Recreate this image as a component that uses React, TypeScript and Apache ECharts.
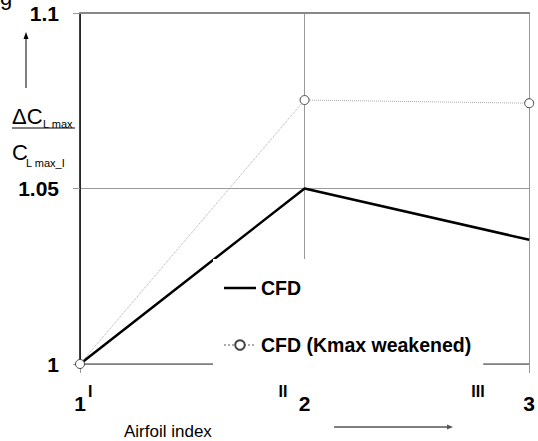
import React, { useEffect, useRef } from "react";
import * as echarts from "echarts";

const xValues = [1, 2, 3];
const cfd = [1.0, 1.05, 1.0354];
const cfdWeakened = [1.0, 1.0752, 1.0743];
const yTickLabels = ["1", "1.05", "1.1"];
const xTickLabels = ["1", "2", "3"];
const romanLabels = ["I", "II", "III"];
const seriesNames = ["CFD", "CFD (Kmax weakened)"];

const FONT = "'Liberation Sans', Arial, sans-serif";

export default function App() {
  const ref = useRef<HTMLDivElement>(null);
  useEffect(() => {
    if (!ref.current) return;
    const chart = echarts.init(ref.current, null, { renderer: "svg" });
    const option: any = {
      animation: false,
      backgroundColor: "#fff",
      textStyle: { fontFamily: FONT },
      grid: { left: 80, right: 5, top: 13, bottom: 77, containLabel: false },
      xAxis: [
        {
          type: "value",
          min: 1,
          max: 3,
          interval: 1,
          axisLine: { show: true, lineStyle: { color: "#7a7a7a", width: 1.5 } },
          axisTick: { show: true, length: 9, lineStyle: { color: "#999", width: 1 } },
          splitLine: { show: true, lineStyle: { color: "#999", width: 1 } },
          axisLabel: {
            margin: 29,
            fontSize: 21,
            fontWeight: "bold",
            color: "#000",
            fontFamily: FONT,
            formatter: (v: number) => xTickLabels[xValues.indexOf(Math.round(v))] ?? "",
          },
        },
        {
          type: "value",
          position: "top",
          min: 1,
          max: 3,
          axisLine: { show: true, onZero: false, lineStyle: { color: "#888", width: 2 } },
          axisTick: { show: false },
          axisLabel: { show: false },
          splitLine: { show: false },
        },
      ],
      yAxis: {
        type: "value",
        min: 1,
        max: 1.1,
        interval: 0.05,
        axisLine: { show: true, lineStyle: { color: "#000", width: 1.5 } },
        axisTick: { show: true, length: 7, lineStyle: { color: "#999", width: 1 } },
        splitLine: { show: true, lineStyle: { color: "#999", width: 1 } },
        axisLabel: {
          margin: 21,
          fontSize: 21,
          fontWeight: "bold",
          color: "#000",
          fontFamily: FONT,
          padding: [12, 0, 0, 0],
          formatter: (_v: number, i: number) => yTickLabels[i] ?? "",
        },
      },
      legend: {
        orient: "vertical",
        left: 213,
        top: 259,
        backgroundColor: "#fff",
        padding: [16, 12, 16, 10],
        itemWidth: 32,
        itemHeight: 12,
        itemGap: 31,
        data: [
          { name: seriesNames[0], icon: "path://M0,0 L32,0 L32,2.5 L0,2.5 Z" },
          { name: seriesNames[1] },
        ],
        textStyle: {
          fontSize: 19.5,
          fontWeight: "bold",
          color: "#000",
          fontFamily: FONT,
          lineHeight: 20,
          padding: [6, 0, 0, 0],
        },
      },
      series: [
        {
          name: seriesNames[0],
          type: "line",
          data: xValues.map((x, i) => [x, cfd[i]]),
          showSymbol: false,
          symbol: "none",
          lineStyle: { color: "#000", width: 2.5 },
          itemStyle: { color: "#000" },
          z: 3,
        },
        {
          name: seriesNames[1],
          type: "line",
          data: xValues.map((x, i) => [x, cfdWeakened[i]]),
          symbol: "circle",
          symbolSize: 9,
          lineStyle: { color: "#aaa", width: 1, type: "dotted" },
          itemStyle: { color: "#fff", borderColor: "#444", borderWidth: 1 },
          z: 4,
        },
      ],
      graphic: [
        { type: "text", left: 0, top: -14, style: { text: "g", fontSize: 22, fill: "#000", fontFamily: FONT } },
        { type: "line", shape: { x1: 26, y1: 88, x2: 26, y2: 37 }, style: { stroke: "#000", lineWidth: 1 } },
        { type: "polygon", shape: { points: [[26, 32], [23.5, 39], [28.5, 39]] }, style: { fill: "#000" } },
        { type: "text", x: 12, y: 116, style: { text: "ΔC", fontSize: 22, fill: "#000", fontFamily: FONT, textVerticalAlign: "middle" } },
        { type: "text", x: 43, y: 124, style: { text: "L max", fontSize: 11, fill: "#000", fontFamily: FONT, textVerticalAlign: "middle" } },
        { type: "line", shape: { x1: 12, y1: 128, x2: 75, y2: 128 }, style: { stroke: "#000", lineWidth: 1 } },
        { type: "text", x: 12, y: 152, style: { text: "C", fontSize: 22, fill: "#000", fontFamily: FONT, textVerticalAlign: "middle" } },
        { type: "text", x: 26, y: 163, style: { text: "L max_I", fontSize: 11, fill: "#000", fontFamily: FONT, textVerticalAlign: "middle" } },
        { type: "text", x: 88, y: 391.5, style: { text: romanLabels[0], fontSize: 16, fontWeight: "bold", fill: "#000", fontFamily: FONT, textVerticalAlign: "middle" } },
        { type: "text", x: 283, y: 391.5, style: { text: romanLabels[1], fontSize: 16, fontWeight: "bold", fill: "#000", fontFamily: FONT, textAlign: "center", textVerticalAlign: "middle" } },
        { type: "text", x: 478, y: 391.5, style: { text: romanLabels[2], fontSize: 16, fontWeight: "bold", fill: "#000", fontFamily: FONT, textAlign: "center", textVerticalAlign: "middle" } },
        { type: "text", x: 124, y: 431, style: { text: "Airfoil index", fontSize: 17, fill: "#000", fontFamily: FONT, textVerticalAlign: "middle" } },
        { type: "line", shape: { x1: 334, y1: 427, x2: 448, y2: 427 }, style: { stroke: "#555", lineWidth: 1.5 } },
        { type: "polygon", shape: { points: [[453, 427], [447, 424.5], [447, 429.5]] }, style: { fill: "#555" } },
      ],
    };
    chart.setOption(option);
    return () => chart.dispose();
  }, []);
  return <div ref={ref} style={{ width: 538, height: 441, position: "absolute", left: 0, top: 0 }} />;
}
